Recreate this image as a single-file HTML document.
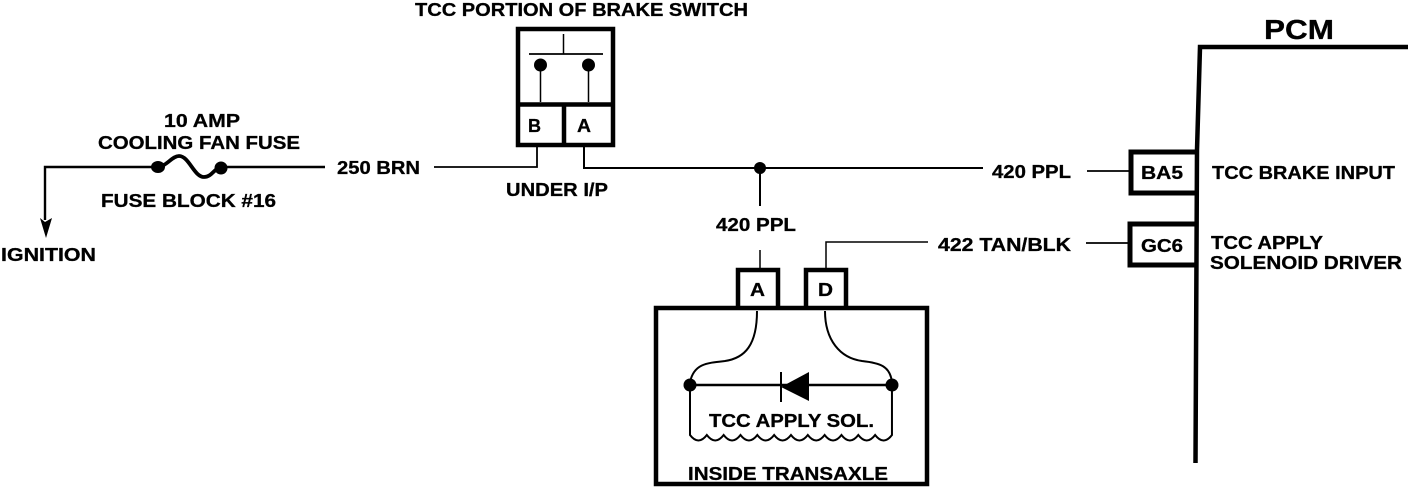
<!DOCTYPE html>
<html>
<head>
<meta charset="utf-8">
<style>
html,body{margin:0;padding:0;background:#fff;}
svg{display:block;}
text{font-family:"Liberation Sans",sans-serif;font-weight:bold;font-size:18px;fill:#000;stroke:#000;stroke-width:.3px;}
</style>
</head>
<body>
<svg width="1408" height="490" viewBox="0 0 1408 490" xmlns="http://www.w3.org/2000/svg">
<g fill="none" stroke="#000" stroke-linejoin="miter">
  <!-- PCM -->
  <path d="M1408 47H1200L1197 150L1195.500 463" stroke-width="4.500"/>
  <path d="M1196 152H1131V193H1196" stroke-width="5"/>
  <path d="M1196 224H1130V265H1196" stroke-width="5"/>
  <!-- brake switch -->
  <rect x="518" y="29" width="95" height="116" stroke-width="4.500"/>
  <path d="M518 104.500H613M564 104V145" stroke-width="4.500"/>
  <path d="M529 54H603" stroke-width="1.800"/>
  <path d="M563.500 34V54" stroke-width="1.500"/>
  <path d="M540.500 65V102M588.500 65V102" stroke-width="1.500"/>
  <!-- wires -->
  <path d="M434 167H537V146" stroke-width="1.800"/>
  <path d="M584 146V168H760H983" stroke-width="2"/>
  <path d="M760 168V206" stroke-width="2"/>
  <path d="M1087 171H1130" stroke-width="1.800"/>
  <path d="M1086 243H1129" stroke-width="1.800"/>
  <path d="M760 250V268" stroke-width="1.500"/>
  <path d="M826 268V242H928" stroke-width="1.500"/>
  <!-- left wire and fuse -->
  <path d="M45 220V167H158" stroke-width="2.400"/>
  <path d="M158 167C167 166 172 156 179 156C189 156 194 177 204 177C212 177 214 168 222 167" stroke-width="3.800"/>
  <path d="M222 167H325" stroke-width="2.400"/>
  <!-- transaxle -->
  <rect x="656" y="308" width="271" height="176" stroke-width="4.500"/>
  <path d="M738 306V270H778V306" stroke-width="4.500"/>
  <path d="M806 306V270H846V306" stroke-width="4.500"/>
  <path d="M757 311C757 345 745 358 725 361C706 363 694 364 690 382" stroke-width="2"/>
  <path d="M825 311C825 340 840 358 862 361C880 363 890 366 892 382" stroke-width="2"/>
  <path d="M690 385H893" stroke-width="2.500"/>
  <path d="M781 372V402" stroke-width="2"/>
  <path d="M690 388V435q8.400 11 16.830 0q8.400 11 16.830 0q8.400 11 16.830 0q8.400 11 16.830 0q8.400 11 16.830 0q8.400 11 16.830 0q8.400 11 16.830 0q8.400 11 16.830 0q8.400 11 16.830 0q8.400 11 16.830 0q8.400 11 16.830 0q8.400 11 16.830 0V388" stroke-width="2"/>
</g>
<g fill="#000" stroke="none">
  <ellipse cx="158" cy="167" rx="7" ry="6"/>
  <circle cx="221" cy="168" r="6.500"/>
  <path d="M40 218L45 222L52 218L46 238Z"/>
  <circle cx="540.500" cy="65" r="6.500"/>
  <circle cx="588.500" cy="65" r="6.500"/>
  <circle cx="760" cy="168" r="6"/>
  <circle cx="690" cy="385" r="6.500"/>
  <circle cx="892" cy="385" r="6.500"/>
  <path d="M781 387L809 372V401Z"/>
</g>
<text x="415" y="16" textLength="333" lengthAdjust="spacingAndGlyphs">TCC PORTION OF BRAKE SWITCH</text>
<text x="164" y="127" textLength="76" lengthAdjust="spacingAndGlyphs">10 AMP</text>
<text x="98" y="149" textLength="202" lengthAdjust="spacingAndGlyphs">COOLING FAN FUSE</text>
<text x="101" y="207" textLength="175" lengthAdjust="spacingAndGlyphs">FUSE BLOCK #16</text>
<text x="1" y="261" textLength="95" lengthAdjust="spacingAndGlyphs">IGNITION</text>
<text x="337" y="174" textLength="83" lengthAdjust="spacingAndGlyphs">250 BRN</text>
<text x="506" y="196" textLength="102" lengthAdjust="spacingAndGlyphs">UNDER I/P</text>
<text x="528" y="132" textLength="13" lengthAdjust="spacingAndGlyphs">B</text>
<text x="577" y="132" textLength="14" lengthAdjust="spacingAndGlyphs">A</text>
<text x="992" y="178" textLength="79" lengthAdjust="spacingAndGlyphs">420 PPL</text>
<text x="716" y="231" textLength="80" lengthAdjust="spacingAndGlyphs">420 PPL</text>
<text x="938" y="251" textLength="133" lengthAdjust="spacingAndGlyphs">422 TAN/BLK</text>
<text x="750" y="296" textLength="15" lengthAdjust="spacingAndGlyphs">A</text>
<text x="818" y="296" textLength="15" lengthAdjust="spacingAndGlyphs">D</text>
<text x="709" y="427" textLength="165" lengthAdjust="spacingAndGlyphs">TCC APPLY SOL.</text>
<text x="688" y="480" textLength="200" lengthAdjust="spacingAndGlyphs">INSIDE TRANSAXLE</text>
<text x="1264" y="39" textLength="70" lengthAdjust="spacingAndGlyphs" style="font-size:28px">PCM</text>
<text x="1141" y="179" textLength="42" lengthAdjust="spacingAndGlyphs">BA5</text>
<text x="1141" y="252" textLength="42" lengthAdjust="spacingAndGlyphs">GC6</text>
<text x="1212" y="179" textLength="183" lengthAdjust="spacingAndGlyphs">TCC BRAKE INPUT</text>
<text x="1211" y="249" textLength="112" lengthAdjust="spacingAndGlyphs">TCC APPLY</text>
<text x="1210" y="269" textLength="192" lengthAdjust="spacingAndGlyphs">SOLENOID DRIVER</text>
</svg>
</body>
</html>
